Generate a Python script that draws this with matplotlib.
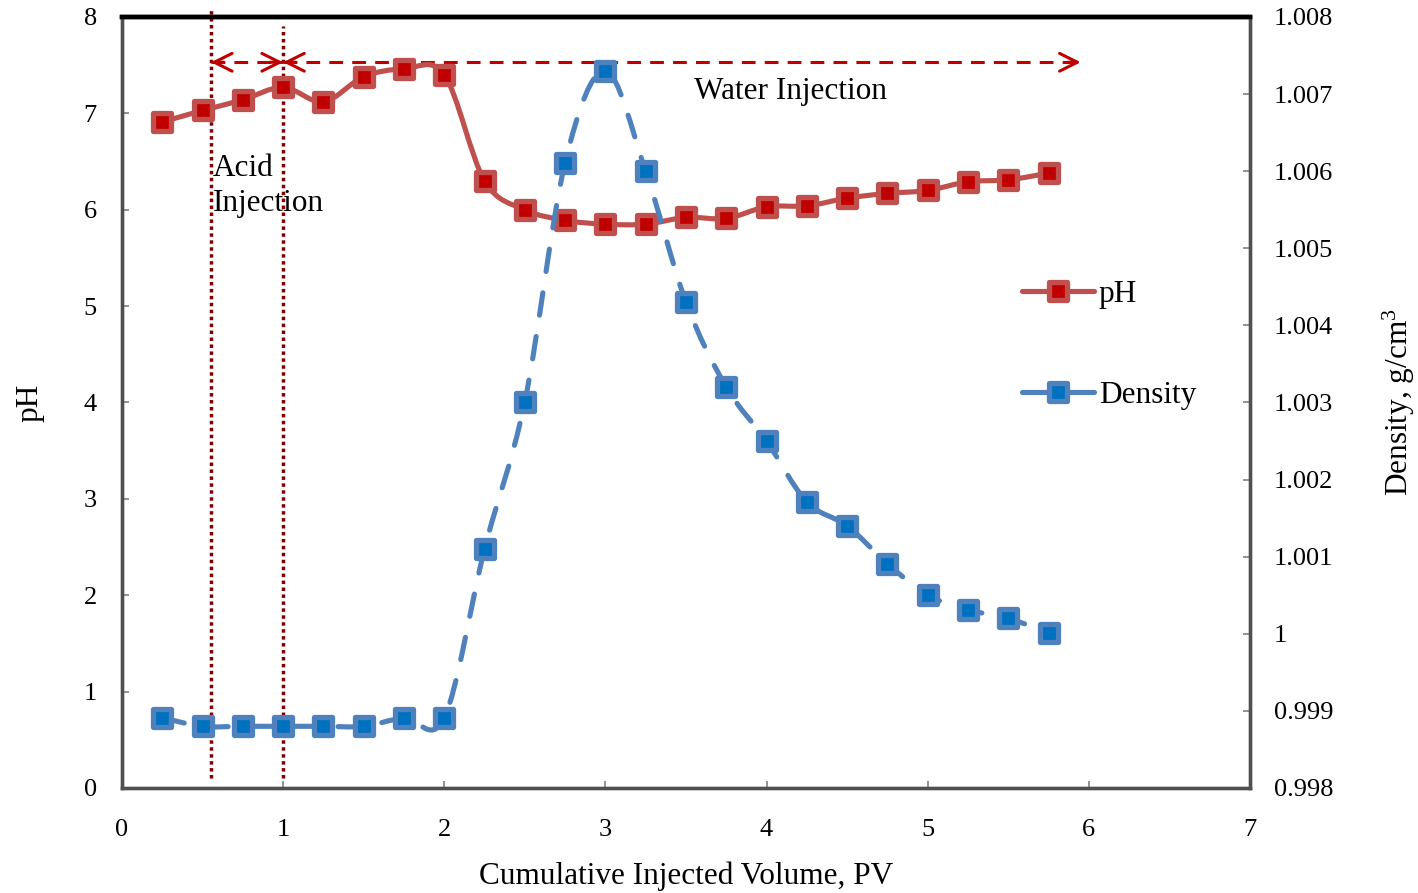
import numpy as np
import matplotlib
matplotlib.use("Agg")
import matplotlib.pyplot as plt
from matplotlib.path import Path
from matplotlib.patches import PathPatch
from matplotlib.lines import Line2D
from matplotlib.markers import MarkerStyle
from matplotlib.ticker import FuncFormatter, MultipleLocator

plt.rcParams['font.family'] = ['Liberation Serif', 'DejaVu Serif']
plt.rcParams['mathtext.fontset'] = 'custom'
plt.rcParams['mathtext.rm'] = 'Liberation Serif'
plt.rcParams['mathtext.it'] = 'Liberation Serif:italic'

# cumulative injected volume (PV)
pv = [0.25, 0.5, 0.75, 1.0, 1.25, 1.5, 1.75, 2.0, 2.25, 2.5, 2.75, 3.0,
      3.25, 3.5, 3.75, 4.0, 4.25, 4.5, 4.75, 5.0, 5.25, 5.5, 5.75]
ph = [6.91, 7.03, 7.14, 7.27, 7.12, 7.38, 7.46, 7.40, 6.30, 6.00, 5.89, 5.85,
      5.85, 5.92, 5.91, 6.03, 6.04, 6.12, 6.17, 6.20, 6.29, 6.31, 6.38]
density = [0.99891, 0.99880, 0.99880, 0.99880, 0.99880, 0.99880, 0.99891,
           0.99891, 1.00110, 1.00301, 1.00611, 1.00730, 1.00600, 1.00430,
           1.00320, 1.00250, 1.00171, 1.00140, 1.00091, 1.00050, 1.00031,
           1.00020, 1.00001]

acid_start = 0.552
acid_end = 1.0
water_end = 5.95
arrow_ph = 7.53

RED_LINE = '#C0504D'
RED_FACE = '#C00000'
BLUE_LINE = '#4F81BD'
BLUE_FACE = '#0070C0'
DARK_RED = '#800000'

MS = 13.0
MEW = 3.8


def smooth_path(x, y):
    # bezier segments like a spreadsheet "smoothed line"
    x = np.asarray(x, float)
    y = np.asarray(y, float)
    pts = np.column_stack([x, y])
    n = len(pts)
    verts = [pts[0]]
    codes = [Path.MOVETO]
    for i in range(n - 1):
        p0 = pts[i - 1] if i > 0 else pts[i]
        p1 = pts[i]
        p2 = pts[i + 1]
        p3 = pts[i + 2] if i + 2 < n else pts[i + 1]
        c1 = p1 + (p2 - p0) / 6.0
        c2 = p2 - (p3 - p1) / 6.0
        verts += [c1, c2, p2]
        codes += [Path.CURVE4] * 3
    return Path(verts, codes)


fig = plt.figure(figsize=(14.18, 8.93), dpi=100)
ax = fig.add_axes([0.0860, 0.1176, 0.7955, 0.8634])
ax2 = ax.twinx()

sq = MarkerStyle('s', joinstyle='round')

# pH
ax.add_patch(PathPatch(smooth_path(pv, ph), fill=False, edgecolor=RED_LINE,
                       lw=3.7, capstyle='round', joinstyle='round', zorder=3))
ax.plot(pv, ph, ls='none', marker=sq, ms=MS, mfc=RED_FACE, mec=RED_LINE,
        mew=MEW, zorder=4)

# density
ax2.add_patch(PathPatch(smooth_path(pv, density), fill=False,
                        edgecolor=BLUE_LINE, lw=3.7, linestyle=(0, (4.4, 4.2)),
                        capstyle='round', zorder=3))
ax2.plot(pv, density, ls='none', marker=sq, ms=MS, mfc=BLUE_FACE,
         mec=BLUE_LINE, mew=MEW, zorder=4)

# injection stage markers
ax.plot([acid_start, acid_start], [0.10, 8.07], color=DARK_RED, lw=2.5,
        ls=(0, (1, 1)), clip_on=False, zorder=2)
ax.plot([acid_end, acid_end], [0.10, 7.91], color=DARK_RED, lw=2.5,
        ls=(0, (1, 1)), clip_on=False, zorder=2)

for x0, x1 in [(acid_start, acid_end), (acid_end, water_end)]:
    ax.plot([x0, x1], [arrow_ph, arrow_ph], color=RED_FACE, lw=2.2,
            ls=(0, (4.5, 3)), zorder=2)
    for tip, tail in [(x0, x0 + 0.08), (x1, x1 - 0.08)]:
        ax.annotate('', xy=(tip, arrow_ph), xytext=(tail, arrow_ph),
                    arrowprops=dict(arrowstyle='->', color=RED_FACE, lw=2.2,
                                    mutation_scale=32, shrinkA=0, shrinkB=0),
                    zorder=2)

ax.text(0.565, 6.58, 'Acid\nInjection', fontsize=22.5, va='top', ha='left',
        linespacing=1.27)
ax.text(3.55, 7.23, 'Water Injection', fontsize=22.5, va='center', ha='left')

# axes
ax.set_xlim(0, 7)
ax.set_ylim(0, 8)
ax2.set_ylim(0.998, 1.008)
ax.xaxis.set_major_locator(MultipleLocator(1))
ax.yaxis.set_major_locator(MultipleLocator(1))
ax2.yaxis.set_major_locator(MultipleLocator(0.001))
ax2.yaxis.set_major_formatter(FuncFormatter(
    lambda v, p: f'{v:.3f}'.rstrip('0').rstrip('.')))

ax.tick_params(axis='both', direction='in', length=5, width=1.2,
               color='#808080', labelsize=19)
ax.tick_params(axis='x', pad=22)
ax.tick_params(axis='y', pad=18)
ax2.tick_params(axis='y', direction='in', length=5, width=1.2,
                color='#808080', labelsize=19, pad=17)

for a in (ax, ax2):
    for side in ('left', 'right', 'bottom'):
        a.spines[side].set_color('#505050')
        a.spines[side].set_linewidth(2.4)
    a.spines['top'].set_color('black')
    a.spines['top'].set_linewidth(3.2)

ax.set_xlabel('Cumulative Injected Volume, PV', fontsize=22.5, labelpad=15)
ax.set_ylabel('pH', fontsize=22.5, labelpad=28)
ax2.set_ylabel('Density, g/cm$^3$', fontsize=22.5, labelpad=34)

handles = [
    Line2D([], [], color=RED_LINE, lw=3.7, marker=sq, ms=MS, mfc=RED_FACE,
           mec=RED_LINE, mew=MEW, solid_capstyle='round'),
    Line2D([], [], color=BLUE_LINE, lw=3.7, marker=sq, ms=MS, mfc=BLUE_FACE,
           mec=BLUE_LINE, mew=MEW, solid_capstyle='round'),
]
ax2.legend(handles, ['pH', 'Density'], loc='upper left',
           bbox_to_anchor=(0.798, 0.659), frameon=False, fontsize=22.5,
           handlelength=2.3, handletextpad=0.15, labelspacing=2.3,
           borderpad=0, borderaxespad=0)

fig.savefig('out.png', dpi=100)
